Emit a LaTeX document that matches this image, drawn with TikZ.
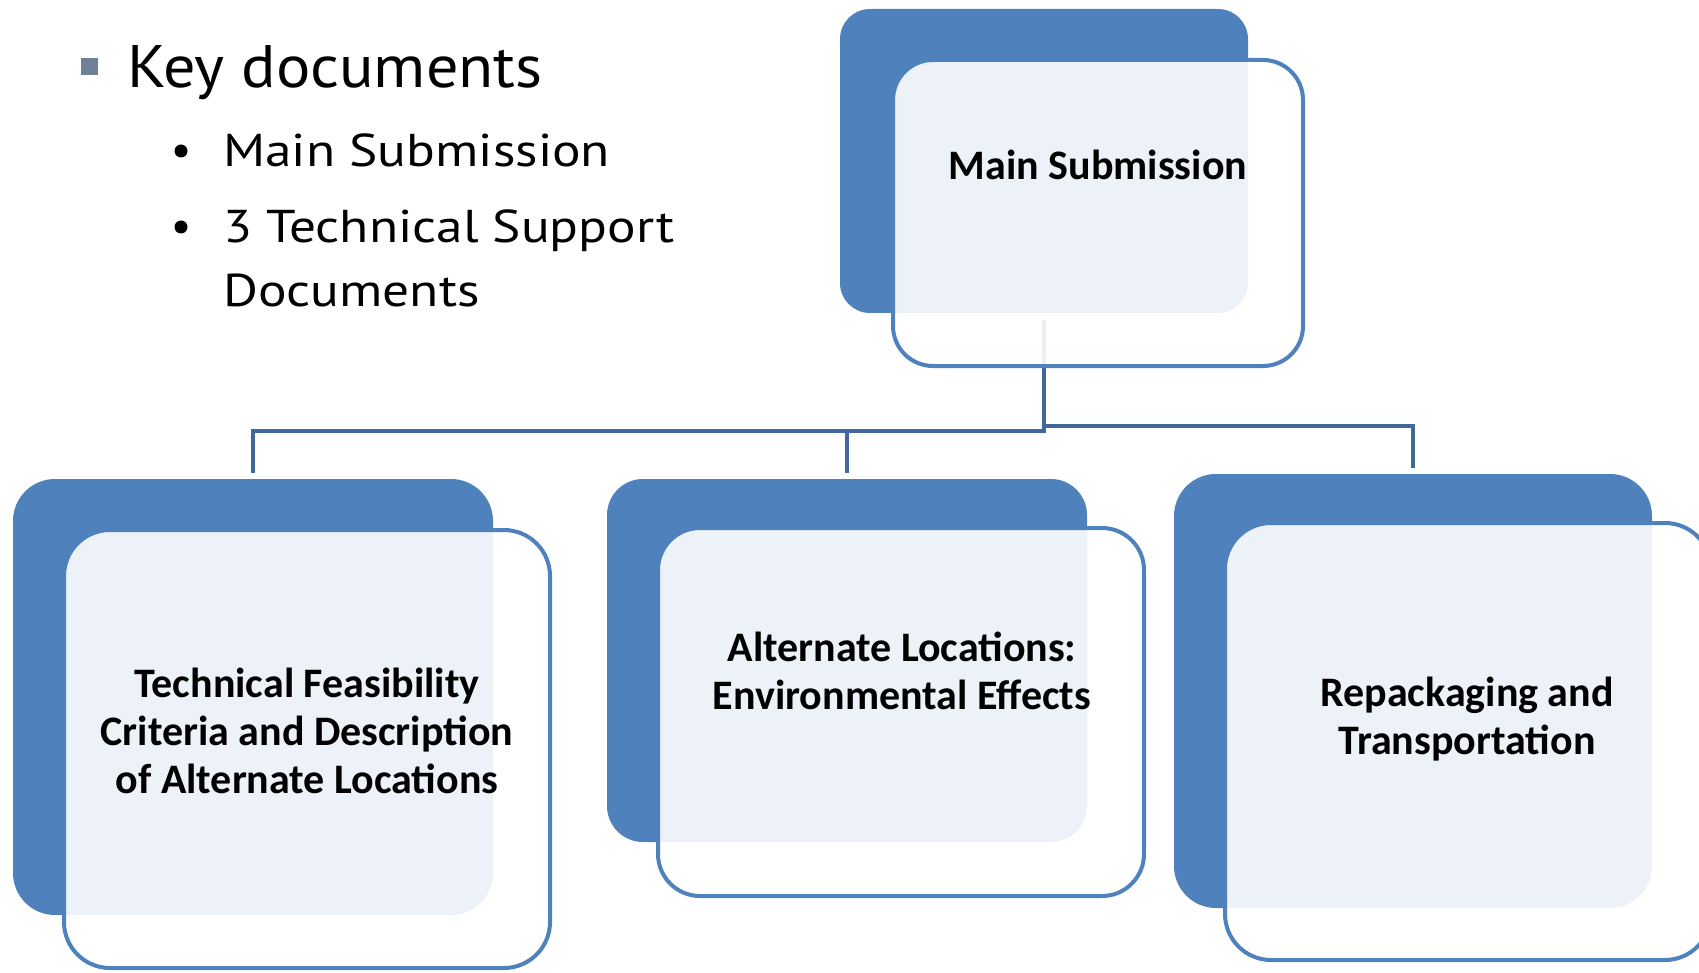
\documentclass[tikz,border=0pt]{standalone}
\usepackage{fontspec}
\usepackage{tikz}
\usetikzlibrary{positioning}
\newfontfamily\calibri{Carlito}
\newfontfamily\listfont[FakeStretch=1.16]{PT Sans}
\newfontfamily\keyfont[FakeStretch=1.07]{PT Sans}
\definecolor{boxblue}{HTML}{4F81BD}
\definecolor{linkblue}{HTML}{41689A}
\definecolor{bulletgray}{HTML}{6F8194}

\begin{document}
\begin{tikzpicture}[x=1pt, y=-1pt,
    backbox/.style = {rectangle, fill=boxblue, inner sep=0pt, outer sep=0pt, anchor=north west},
    frontbox/.style = {rectangle, draw=boxblue, line width=4pt, fill=white, fill opacity=0.9, inner sep=0pt, outer sep=0pt, anchor=north west},
    boxlabel/.style = {font=\calibri\bfseries\fontsize{42}{48}\selectfont, align=center, inner sep=0pt},
    listitem/.style = {font=\listfont\fontsize{46}{55}\selectfont, anchor=base west, inner sep=0pt},
    dot/.style = {circle, fill=black, minimum size=13pt, inner sep=0pt},
    link/.style = {draw=linkblue, line width=4pt}]

    \useasboundingbox (0,0) rectangle (1699,973);
    \clip (0,0) rectangle (1699,973);

    % bullet list
    \node[fill=bulletgray, minimum size=17pt, inner sep=0pt] (sq) at (89,67) {};
    \node[font=\keyfont\fontsize{60}{70}\selectfont, anchor=base west, inner sep=0pt] (key) at (127,88) {Key documents};
    \node[listitem] (it1) at (223,167) {Main Submission};
    \node[listitem] (it2) at (223,243) {3 Technical Support};
    \node[listitem] (it3) at (223,307) {Documents};
    \node[dot] (dot1) at (181,151) {};
    \node[dot] (dot2) at (181,227) {};

    % back boxes
    \node[backbox, minimum width=408pt, minimum height=304pt, rounded corners=30pt] (mainb) at (840,9) {};
    \node[backbox, minimum width=480pt, minimum height=436pt, rounded corners=42pt] (feasb) at (13,479) {};
    \node[backbox, minimum width=480pt, minimum height=363pt, rounded corners=36pt] (altb) at (607,479) {};
    \node[backbox, minimum width=478pt, minimum height=434pt, rounded corners=42pt] (repb) at (1174,474) {};

    % connectors
    \draw[link, shorten <=7pt, shorten >=6pt] (mainb.south) -- ++(0,118) -| (feasb.north);
    \draw[link, shorten <=6pt] (altb.north) -- ++(0,-48);
    \draw[link, shorten >=6pt] (mainb.south) ++(0,113) -| (repb.north);

    % front boxes
    \node[frontbox, minimum width=410pt, minimum height=306pt, rounded corners=40pt] (mainf) at (893,60) {};
    \node[frontbox, minimum width=486pt, minimum height=438pt, rounded corners=46pt] (feasf) at (64,530) {};
    \node[frontbox, minimum width=486pt, minimum height=368pt, rounded corners=42pt] (altf) at (658,528) {};
    \node[frontbox, minimum width=486pt, minimum height=437pt, rounded corners=46pt] (repf) at (1225,523) {};

    % box texts
    \node[boxlabel] (maint) at (1098,165) {Main Submission};
    \node[boxlabel] (feast) at (307,731) {Technical Feasibility\\Criteria and Description\\of Alternate Locations};
    \node[boxlabel] (altt) at (902,671) {Alternate Locations:\\Environmental Effects};
    \node[boxlabel] (rept) at (1467,719) {Repackaging and\\Transportation};

\end{tikzpicture}
\end{document}
